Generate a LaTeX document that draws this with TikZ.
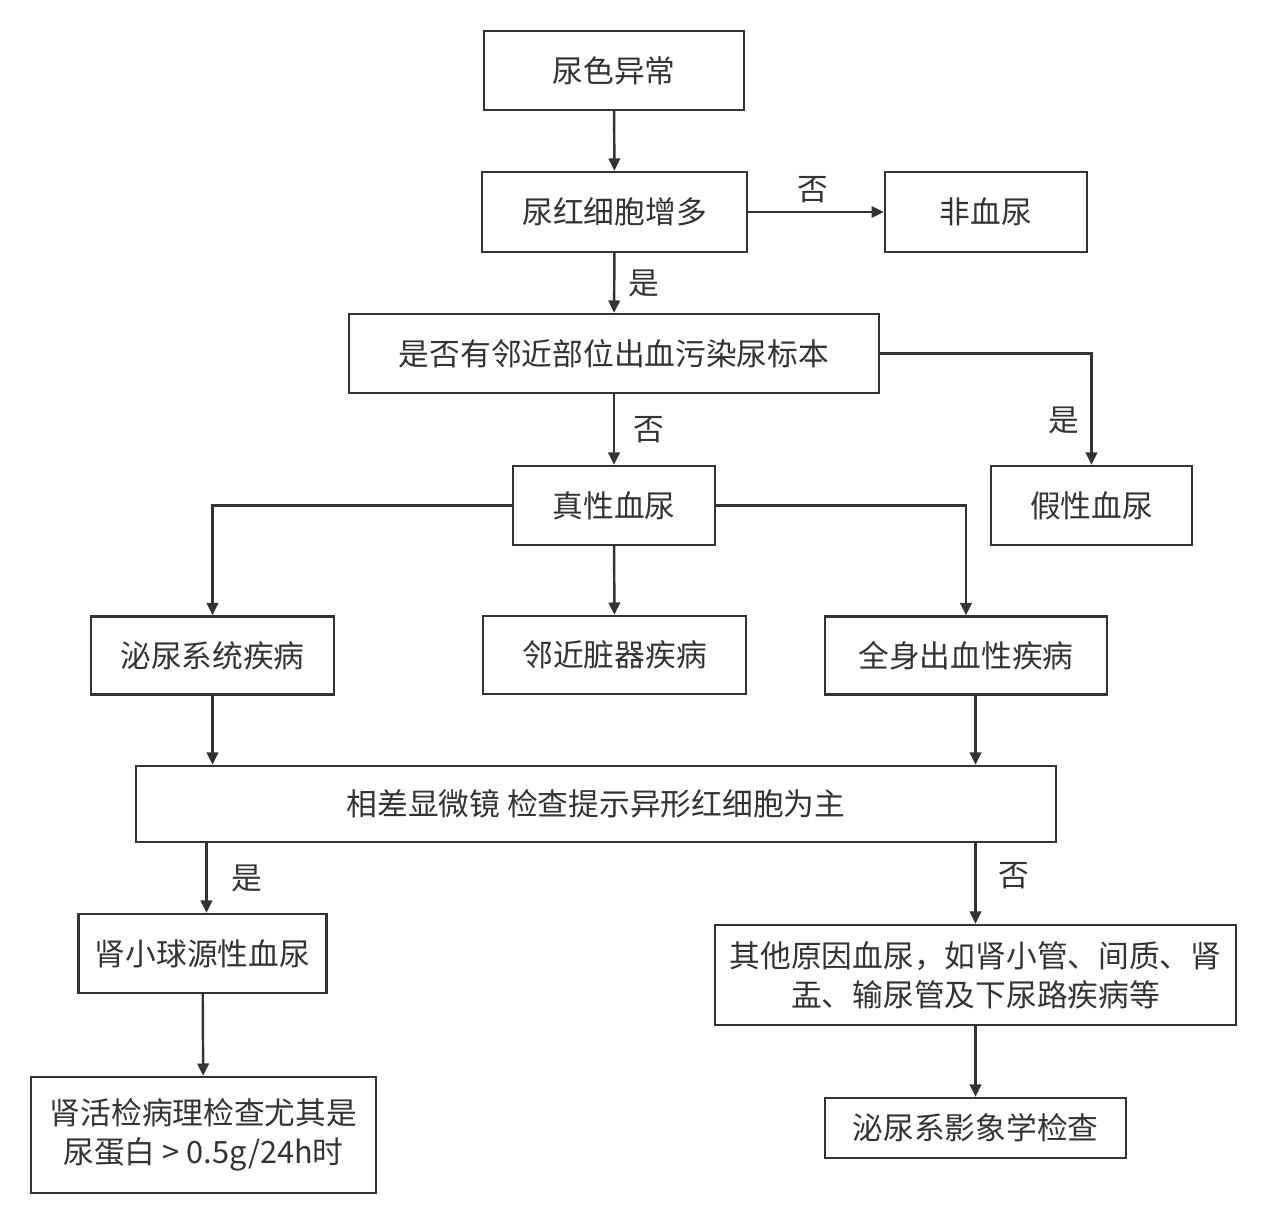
\documentclass[tikz,border=0pt]{standalone}
\usepackage{fontspec}
\setmainfont{Noto Sans CJK SC}
\usetikzlibrary{arrows.meta,calc}
\definecolor{ink}{HTML}{333333}

\begin{document}
\begin{tikzpicture}[x=0.02cm,y=-0.02cm,
	box/.style={draw=ink, line width=1.4pt, text=ink, align=center, inner sep=0pt,
		font=\fontsize{17.5}{22}\selectfont},
	flow/.style={draw=ink, line width=1.4pt, -{Triangle[length=7pt,width=6.5pt]}},
	tag/.style={text=ink, font=\fontsize{17.5}{22}\selectfont}]
			\useasboundingbox (0,0) rectangle (1267,1224);
			\node[box, minimum width=5.2cm, minimum height=1.58cm] (color) at (614,70.5) {尿色异常};
			\node[box, minimum width=5.3cm, minimum height=1.6cm] (rbc) at (614.5,212) {尿红细胞增多};
			\node[box, minimum width=4.04cm, minimum height=1.6cm] (nonh) at (986,212) {非血尿};
			\node[box, minimum width=10.6cm, minimum height=1.58cm] (contam) at (614,353.5) {是否有邻近部位出血污染尿标本};
			\node[box, minimum width=4.02cm, minimum height=1.58cm] (fake) at (1091.5,505.5) {假性血尿};
			\node[box, minimum width=4.04cm, minimum height=1.58cm] (true) at (614,505.5) {真性血尿};
			\node[box, minimum width=4.86cm, minimum height=1.56cm] (urin) at (212.5,655.5) {泌尿系统疾病};
			\node[box, minimum width=5.26cm, minimum height=1.56cm] (organ) at (614.5,655) {邻近脏器疾病};
			\node[box, minimum width=5.64cm, minimum height=1.56cm] (bleed) at (966,655.5) {全身出血性疾病};
			\node[box, minimum width=18.4cm, minimum height=1.52cm] (phase) at (596,804) {相差显微镜 检查提示异形红细胞为主};
			\node[box, minimum width=4.96cm, minimum height=1.58cm] (glom) at (202.5,953.5) {肾小球源性血尿};
			\node[box, minimum width=10.42cm, minimum height=2cm] (other) at (975.5,975) {其他原因血尿，如肾小管、间质、肾\\盂、输尿管及下尿路疾病等};
			\node[box, minimum width=6.9cm, minimum height=2.32cm] (biopsy) at (203.5,1135) {肾活检病理检查尤其是\\尿蛋白 > 0.5g/24h时};
			\node[box, minimum width=6.02cm, minimum height=1.2cm] (image) at (975.5,1128) {泌尿系影象学检查};
			\coordinate (glomtop) at ($(glom.north)+(4,0)$);

			\draw[flow] (color) -- (rbc);
			\draw[flow] (rbc) -- (nonh) node[tag, midway, above=1pt, xshift=-2pt]{否};
			\draw[flow] (rbc) -- (contam) node[tag, midway, right=4pt]{是};
			\draw[flow] (contam) -- (true) node[tag, midway, right=7pt]{否};
			\draw[flow] (contam.east) -| (fake.north) node[tag, pos=0.8, left=3pt]{是};
			\draw[flow] (true.west) -| (urin.north);
			\draw[flow] (true) -- (organ);
			\draw[flow] (true.east) -| (bleed.north);
			\draw[flow] (urin) -- (urin |- phase.north);
			\draw[flow] (other |- bleed.south) -- (other |- phase.north);
			\draw[flow] (glomtop |- phase.south) -- (glomtop) node[tag, midway, right=10pt]{是};
			\draw[flow] (other |- phase.south) -- (other) node[tag, pos=0.4, right=9pt]{否};
			\draw[flow] (glom) -- (biopsy);
			\draw[flow] (other) -- (image);
		\end{tikzpicture}
\end{document}
